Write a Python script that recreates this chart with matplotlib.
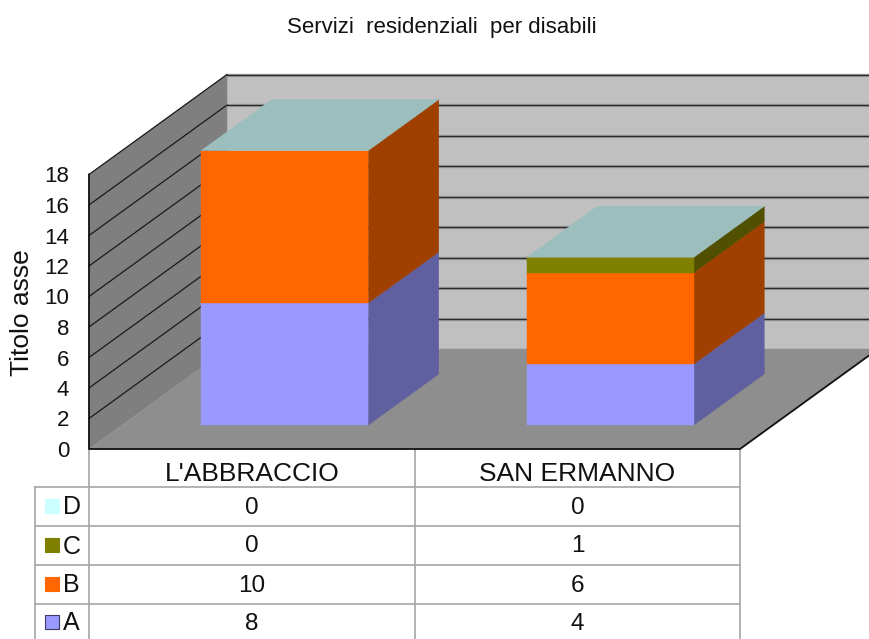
import matplotlib
matplotlib.use('Agg')
import matplotlib.pyplot as plt
from matplotlib.patches import Polygon

plt.rcParams['font.family'] = ['Liberation Sans', 'DejaVu Sans']

# data
categories = ["L'ABBRACCIO", "SAN ERMANNO"]
series_names = ['A', 'B', 'C', 'D']
series_a = [8, 4]
series_b = [10, 6]
series_c = [0, 1]
series_d = [0, 0]
y_ticks = [0, 2, 4, 6, 8, 10, 12, 14, 16, 18]

all_series = [series_a, series_b, series_c, series_d]
front_colors = ['#9999ff', '#ff6600', '#808000', '#ccffff']
side_colors = ['#6060a0', '#a04000', '#505000', '#80a0a0']
top_color = '#9cbfbe'

W, H = 869, 639
X0, Y0 = 89, 449        # pixel of category 0, value 0
CAT_W, UNIT = 325.5, 15.25
DEPTH_X, DEPTH_Y = 138 / CAT_W, 100 / UNIT   # full depth of the box, in data units
BAR_W = 0.513
BAR_D0, BAR_D1 = 0.24, 0.75

fig = plt.figure(figsize=(W / 100, H / 100), dpi=100)
ax = fig.add_axes([0, 0, 1, 1])
ax.set_xlim(-X0 / CAT_W, (W - X0) / CAT_W)
ax.set_ylim((Y0 - H) / UNIT, Y0 / UNIT)
ax.axis('off')


def pr(x, v, d=0.0):
    # oblique projection: category, value, depth -> data coords
    return (x + d * DEPTH_X, v + d * DEPTH_Y)


def px(x, y):
    # pixel position (from top left) -> data coords
    return ((x - X0) / CAT_W, (Y0 - y) / UNIT)


def face(points, color, z):
    ax.add_patch(Polygon(points, closed=True, fc=color, ec=color, lw=0.3, zorder=z))


ymax = y_ticks[-1]
n = len(categories)

# box
face([pr(0, 0, 1), pr(n, 0, 1), pr(n, ymax, 1), pr(0, ymax, 1)], '#c0c0c0', 1)
face([pr(0, 0), pr(0, ymax), pr(0, ymax, 1), pr(0, 0, 1)], '#7f7f7f', 1)
face([pr(0, 0), pr(n, 0), pr(n, 0, 1), pr(0, 0, 1)], '#8e8e8e', 1)

# gridlines
for t in y_ticks[1:]:
    xs, ys = zip(pr(0, t, 1), pr(n, t, 1))
    ax.plot(xs, ys, color='#9a9a9a', lw=2.4, zorder=2)
    ax.plot(xs, ys, color='#2a2a2a', lw=0.9, zorder=2)
    xs, ys = zip(pr(0, t), pr(0, t, 1))
    ax.plot(xs, ys, color='#1a1a1a', lw=0.9, zorder=2)

xs, ys = zip(pr(0, ymax), pr(0, 0), pr(n, 0), pr(n, 0, 1))
ax.plot(xs, ys, color='#111111', lw=1.3, zorder=3)

# stacked 3d bars
for i in range(n):
    x0 = i + 0.5 - BAR_W / 2
    x1 = i + 0.5 + BAR_W / 2
    base = 0
    for vals, fc, sc in zip(all_series, front_colors, side_colors):
        v = vals[i]
        if v > 0:
            top = base + v
            face([pr(x1, base, BAR_D0), pr(x1, base, BAR_D1), pr(x1, top, BAR_D1), pr(x1, top, BAR_D0)], sc, 4)
            face([pr(x0, base, BAR_D0), pr(x1, base, BAR_D0), pr(x1, top, BAR_D0), pr(x0, top, BAR_D0)], fc, 5)
            base = top
    face([pr(x0, base, BAR_D0), pr(x1, base, BAR_D0), pr(x1, base, BAR_D1), pr(x0, base, BAR_D1)], top_color, 6)

# value axis labels
for t in y_ticks:
    xt, yt = px(69, Y0 - t * UNIT + 2.5)
    ax.text(xt, yt, str(t), ha='right', va='center', fontsize=16, color='#111111')
xt, yt = px(22.5, 313)
ax.text(xt, yt, 'Titolo asse', rotation=90, ha='center', va='center', fontsize=19, color='#111111')

# title
xt, yt = px(441.5, 27.5)
ax.text(xt, yt, 'Servizi  residenziali  per disabili', ha='center', va='center', fontsize=16, color='#111111')

# data table
grid = '#a6a6a6'
row_y = [487, 526, 565, 604]
col_x = [89, 415, 740]
for yy in row_y:
    xs, ys = zip(px(35, yy), px(740, yy))
    ax.plot(xs, ys, color=grid, lw=1.2, zorder=2)
for xx in col_x:
    xs, ys = zip(px(xx, Y0), px(xx, H))
    ax.plot(xs, ys, color=grid, lw=1.2, zorder=2)
xs, ys = zip(px(35, 487), px(35, H))
ax.plot(xs, ys, color=grid, lw=1.2, zorder=2)

for i, name in enumerate(categories):
    xt, yt = px((col_x[i] + col_x[i + 1]) / 2, 474)
    ax.text(xt, yt, name, ha='center', va='center', fontsize=19, color='#111111')

rows = list(zip(series_names, all_series, front_colors))[::-1]
text_y = [507.5, 546.5, 585.5, 623.5]
for (name, vals, color), yy in zip(rows, text_y):
    for i, v in enumerate(vals):
        xt, yt = px((col_x[i] + col_x[i + 1]) / 2, yy)
        ax.text(xt, yt, str(v), ha='center', va='center', fontsize=17.5, color='#111111')
    xt, yt = px(51.5, yy - 1.5)
    edge = '#3c3c64' if name == 'A' else color
    ax.scatter([xt], [yt], marker='s', s=90, c=color, edgecolors=edge, linewidths=0.8, zorder=4)
    xt, yt = px(63, yy)
    ax.text(xt, yt, name, ha='left', va='center', fontsize=18, color='#111111')

fig.savefig('out.png', dpi=100)
